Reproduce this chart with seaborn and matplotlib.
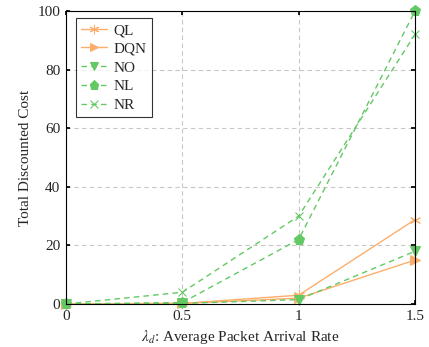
import matplotlib
matplotlib.use("Agg")
import matplotlib.pyplot as plt
import seaborn as sns
import pandas as pd

x = [0, 0.5, 1, 1.5]
ql = [0, 0.2, 3.0, 28.8]
dqn = [0, 0.2, 2.0, 15.0]
no = [0, 0.2, 1.5, 18.0]
nl = [0, 0.5, 22.0, 100.0]
nr = [0, 4.0, 30.0, 92.0]
names = ["QL", "DQN", "NO", "NL", "NR"]
series = [ql, dqn, no, nl, nr]

sns.set_theme(style="white")
plt.rcParams['font.family'] = ['Liberation Serif', 'DejaVu Serif']
plt.rcParams['mathtext.fontset'] = 'stix'

orange = "#fdae6b"
green = "#63c963"
styles = {
    "QL": dict(color=orange, ls="-", marker=(6, 2, 0), ms=8),
    "DQN": dict(color=orange, ls="-", marker=">", ms=7),
    "NO": dict(color=green, ls=(0, (4, 3)), marker="v", ms=7),
    "NL": dict(color=green, ls=(0, (4, 3)), marker="p", ms=8),
    "NR": dict(color=green, ls=(0, (4, 3)), marker="x", ms=6),
}

fig = plt.figure(figsize=(4.29, 3.47), dpi=100)
ax = fig.add_axes([66/429, 1 - 304/347, (415-66)/429, (304-11)/347])

for name, ys in zip(names, series):
    df = pd.DataFrame({"x": x, "y": ys})
    st = styles[name]
    sns.lineplot(data=df, x="x", y="y", ax=ax, color=st["color"], linestyle=st["ls"],
                 marker=st["marker"], markersize=st["ms"], markeredgecolor=st["color"],
                 markerfacecolor=st["color"], linewidth=1.0, label=name, clip_on=False)

ax.set_xlim(0, 1.5)
ax.set_ylim(0, 100)
ax.set_xticks([0, 0.5, 1, 1.5])
ax.set_xticklabels(["0", "0.5", "1", "1.5"])
ax.set_yticks([0, 20, 40, 60, 80, 100])
ax.grid(True, color="#c8c8c8", ls=(0, (4, 3)), lw=0.8)
ax.set_axisbelow(True)
for s in ax.spines.values():
    s.set_color("black")
    s.set_linewidth(0.8)
ax.tick_params(direction="in", length=3, color="black", labelsize=11, pad=4,
               top=True, right=True, bottom=True, left=True)
ax.set_xlabel(r"$\lambda_d$: Average Packet Arrival Rate", fontsize=11)
ax.set_ylabel("Total Discounted Cost", fontsize=11)

leg = ax.legend(loc="upper left", bbox_to_anchor=(0.029, 0.976), borderaxespad=0,
                frameon=True, fancybox=False, edgecolor="black", fontsize=11,
                handlelength=1.7, borderpad=0.35, labelspacing=0.33, handletextpad=0.4,
                markerscale=0.85)
leg.get_frame().set_linewidth(0.8)

fig.savefig("out.png", dpi=100)
